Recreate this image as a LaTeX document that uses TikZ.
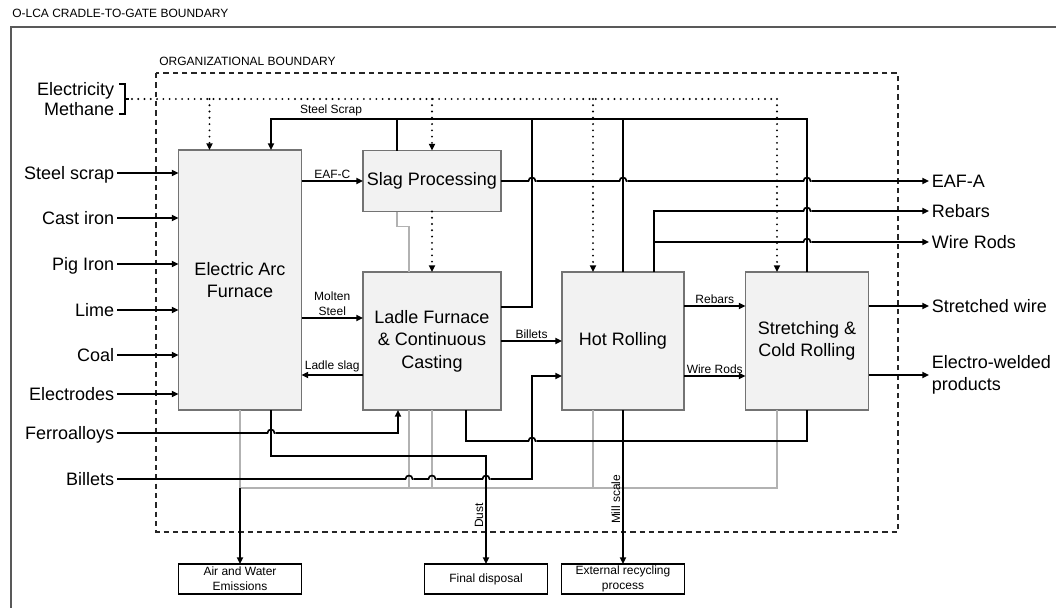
\documentclass[tikz,border=0pt]{standalone}
\usepackage{fontspec}
\setmainfont{Liberation Sans}
\usetikzlibrary{positioning,arrows.meta,calc}

\newcommand{\lbig}{\fontsize{13.5}{16.8}\selectfont}
\newcommand{\lsmall}{\fontsize{9}{11}\selectfont}
% bump of a horizontal line over a vertical one (#1 crossing, #2 colour of the vertical)
\newcommand{\linehop}[2]{%
  \fill[white] ($(#1)+(-4.5,-1.5)$) rectangle ($(#1)+(4.5,1.5)$);
  \draw[line width=1.25pt, draw=#2] ($(#1)+(0,-1.8)$) -- ($(#1)+(0,1.8)$);
  \draw[ln] ($(#1)+(-4.5,0)$) -- ($(#1)+(-3.5,0)$) .. controls ($(#1)+(-3.5,-4.6)$) and ($(#1)+(3.5,-4.6)$) .. ($(#1)+(3.5,0)$) -- ($(#1)+(4.5,0)$);
}

\begin{document}
\begin{tikzpicture}[
  x=0.75pt, y=-0.75pt,
  proc/.style={draw=black!55, fill=black!5, line width=1.2pt, inner sep=0pt, outer sep=0pt, align=center, font=\lbig},
  sink/.style={draw=black, fill=white, line width=1.2pt, inner sep=0pt, outer sep=0pt, align=center, font=\lsmall, minimum width=92.25pt, minimum height=22.5pt},
  onerow/.style={text height=9.7pt, text depth=0pt},
  inlbl/.style={font=\lbig, inner sep=2pt, anchor=east, onerow},
  outlbl/.style={font=\lbig, inner sep=2pt, anchor=west, align=left},
  lbl/.style={font=\lsmall, inner sep=1.5pt},
  ln/.style={line width=1.25pt},
  arr/.style={ln, -{Triangle[length=5pt, width=4.5pt]}},
  gry/.style={line width=1.1pt, draw=black!30},
  enr/.style={line width=1.6pt, line cap=round, dash pattern=on 0pt off 4.7pt},
  enrarr/.style={enr, -{Triangle[length=5pt, width=4.5pt]}},
  bound/.style={line width=1.2pt, dash pattern=on 4pt off 3pt, draw=black!85}
]
\useasboundingbox (0,0) rectangle (1056,607);

% Boundaries
\node[lbl, anchor=west, inner sep=0pt] (tOuter) at (12,13) {O-LCA CRADLE-TO-GATE BOUNDARY};
\draw[line width=1.2pt, draw=black!65] (11,612) -- (11,27) -- (1062,27);
\node[lbl, anchor=west, inner sep=0pt] (tOrg) at (159,61) {ORGANIZATIONAL BOUNDARY};
\draw[bound] (156,73) rectangle (898,532);

% Processes
\node[proc, minimum width=92.25pt, minimum height=195pt] (eaf) at (240,280) {Electric Arc\\Furnace};
\node[proc, minimum width=103.5pt, minimum height=45.75pt] (slag) at (432,181) {Slag Processing};
\node[proc, minimum width=103.5pt, minimum height=103.5pt] (ladle) at (432,341) {Ladle Furnace\\\& Continuous\\Casting};
\node[proc, minimum width=91.5pt, minimum height=103.5pt] (hot) at (623,341) {Hot Rolling};
\node[proc, minimum width=92.25pt, minimum height=103.5pt] (stretch) at (807,341) {Stretching \&\\Cold Rolling};

% Destinations outside the organization
\node[sink] (emis) at (240,579) {Air and Water\\Emissions};
\node[sink] (disp) at (486,579) {Final disposal};
\node[sink] (recyc) at (623,579) {External recycling\\process};

% Raw materials
\foreach \nm/\yy/\txt in {iScrap/173/Steel scrap, iCast/218/Cast iron, iPig/264/Pig Iron, iLime/310/Lime, iCoal/355/Coal, iElec/394/Electrodes}{
  \node[inlbl] (\nm) at (117,\yy) {\txt};
  \draw[arr] (\nm.east) -- (\nm.east -| eaf.west);
}
\node[inlbl] (iFerro) at (117,433) {Ferroalloys};
\node[inlbl] (iBill) at (117,479) {Billets};

% Products
\node[outlbl, onerow] (oEAFA) at (929,181) {EAF-A};
\node[outlbl, onerow] (oRebar) at (929,211) {Rebars};
\node[outlbl, onerow] (oWire) at (929,242) {Wire Rods};
\node[outlbl, onerow] (oStretch) at (929,306) {Stretched wire};
\node[outlbl] (oWeld) at (929,375) {Electro-welded\\products};

% Energy
\node[inlbl] (eElec) at (117,89) {Electricity};
\node[inlbl] (eMeth) at (117,109) {Methane};
\coordinate (brk) at (125,99);
\draw[ln] ($(brk)+(-6,-15)$) -| ($(brk)+(0,15)$) -- ($(brk)+(-6,15)$);
\draw[ln] (brk) -- ($(brk)+(4,0)$);
\coordinate (eEAF) at ($(eaf.north west)+(31,0)$);
\coordinate (eHot) at ($(hot.north)+(-30,0)$);
\coordinate (eStr) at ($(stretch.north)+(-30,0)$);
\draw[enr] ($(brk)+(7,0)$) -- (eStr |- brk);
\draw[enrarr] (eEAF |- brk) -- (eEAF);
\draw[enrarr] (slag.north |- brk) -- (slag.north);
\draw[enrarr] (slag.south) -- (ladle.north);
\draw[enrarr] (eHot |- brk) -- (eHot);
\draw[enrarr] (eStr |- brk) -- (eStr);

% Gray lines to emissions
\coordinate (gL) at ($(eaf.south)+(0,78)$);
\coordinate (gStr) at ($(stretch.south)+(-30,0)$);
\coordinate (gLad) at ($(ladle.south west)+(46,0)$);
\coordinate (gHot) at ($(hot.south)+(-30,0)$);
\coordinate (gSlag) at ($(slag.south west)+(34,0)$);
\draw[gry] (eaf.south) -- (gL) -| (gStr);
\draw[gry] (gLad) -- (gLad |- gL);
\draw[gry] (ladle.south) -- (ladle.south |- gL);
\draw[gry] (gHot) -- (gHot |- gL);
\draw[gry] (gSlag) -- ++(0,15) -| (gLad |- ladle.north);
\draw[arr] (gL) -- (emis.north);

% Main flows
\draw[arr] (eaf.east |- slag.west) -- node[lbl, above]{EAF-C} (slag.west);
\coordinate (msIn) at ($(ladle.west)+(0,-23)$);
\draw[arr] (eaf.east |- msIn) -- node[lbl, above, align=center]{Molten\\Steel} (msIn);
\coordinate (lsOut) at ($(ladle.west)+(0,34)$);
\draw[arr] (lsOut) -- node[lbl, above]{Ladle slag} (eaf.east |- lsOut);
\draw[arr] (ladle.east) -- node[lbl, above]{Billets} (hot.west);
\coordinate (rbOut) at ($(hot.east)+(0,-35)$);
\draw[arr] (rbOut) -- node[lbl, above]{Rebars} (stretch.west |- rbOut);
\coordinate (wrOut) at ($(hot.east)+(0,35)$);
\draw[arr] (wrOut) -- node[lbl, above]{Wire Rods} (stretch.west |- wrOut);
\draw[arr] (stretch.east |- oStretch) -- (oStretch.west);
\draw[arr] (stretch.east |- oWeld) -- (oWeld.west);

% Steel scrap loop
\coordinate (sTop) at ($(stretch.north)+(0,-153)$);
\coordinate (sEAF) at ($(eaf.north)+(31,0)$);
\coordinate (sSlag) at ($(slag.north west)+(34,0)$);
\coordinate (sLad) at ($(ladle.east)+(0,-34)$);
\coordinate (bUp) at ($(hot.west)+(-30,35)$);
\draw[arr] (stretch.north) |- node[lbl, above, pos=0.944]{Steel Scrap} (sEAF |- sTop) -- (sEAF);
\draw[ln] (sSlag) -- (sSlag |- sTop);
\draw[ln] (sLad) -| (bUp |- sTop);
\draw[ln] (hot.north) -- (hot.north |- sTop);

% Outputs
\draw[arr] (slag.east) -- (oEAFA.west |- slag.east);
\coordinate (rUp) at ($(hot.north)+(31,0)$);
\draw[arr] (rUp) |- (oRebar.west);
\draw[arr] (rUp) |- (oWire.west);

% Lower links
\coordinate (fUp) at ($(ladle.south west)+(35,0)$);
\draw[arr] (iFerro.east) -| (fUp);
\draw[arr] (iBill.east) -| (bUp) -- (hot.west |- bUp);
\coordinate (lowL) at ($(ladle.south)+(34,0)$);
\coordinate (lowR) at ($(stretch.south)+(0,31)$);
\draw[ln] (lowL) |- (lowR) -- (stretch.south);
\coordinate (dustL) at ($(eaf.south)+(31,0)$);
\coordinate (dustR) at ($(disp.north)+(0,-108)$);
\draw[arr] (dustL) |- (dustR) -- node[lbl, pos=0.55, rotate=90, anchor=south]{Dust} (disp.north);
\draw[arr] (hot.south) -- node[lbl, pos=0.58, rotate=90, anchor=south]{Mill scale} (recyc.north);

% Line hops
\coordinate (h1) at (sEAF |- iFerro);
\coordinate (h2) at (gLad |- iBill);
\coordinate (h3) at (ladle.south |- iBill);
\coordinate (h4) at (dustR |- iBill);
\coordinate (h5) at (bUp |- slag.east);
\coordinate (h6) at (hot.north |- slag.east);
\coordinate (h7) at (stretch.north |- slag.east);
\coordinate (h8) at (stretch.north |- oRebar);
\coordinate (h9) at (stretch.north |- oWire);
\coordinate (h10) at (bUp |- lowR);
\foreach \h/\c in {h1/black, h2/black!30, h3/black!30, h4/black, h5/black, h6/black, h7/black, h8/black, h9/black, h10/black}{
  \linehop{\h}{\c}
}
\end{tikzpicture}
\end{document}
